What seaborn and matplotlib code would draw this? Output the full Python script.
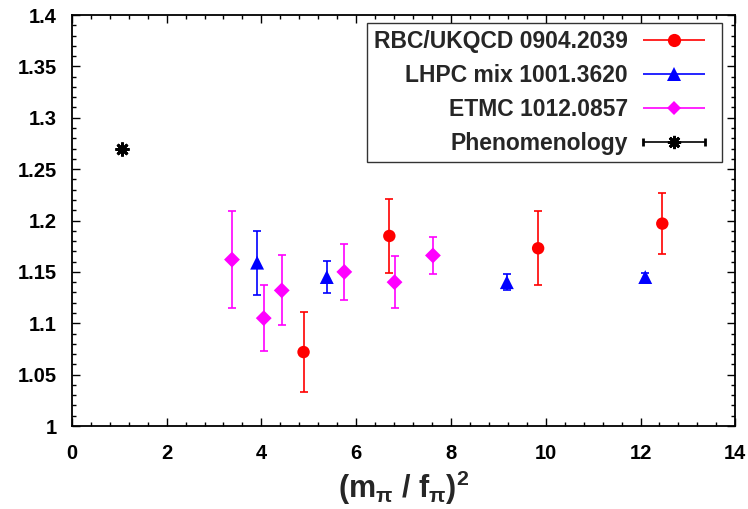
import matplotlib
matplotlib.use('Agg')
import matplotlib.pyplot as plt
import seaborn as sns
from matplotlib.ticker import MultipleLocator
from matplotlib.legend_handler import HandlerErrorbar

# RBC/UKQCD 0904.2039
rbc_x = [4.89, 6.70, 9.84, 12.46]
rbc_y = [1.072, 1.185, 1.173, 1.197]
rbc_e = [0.039, 0.036, 0.036, 0.030]

# LHPC mix 1001.3620
lhpc_x = [3.91, 5.38, 9.18, 12.10]
lhpc_y = [1.159, 1.145, 1.140, 1.145]
lhpc_e = [0.031, 0.016, 0.008, 0.004]

# ETMC 1012.0857
etmc_x = [3.38, 4.05, 4.43, 5.75, 6.81, 7.62]
etmc_y = [1.162, 1.105, 1.132, 1.150, 1.140, 1.166]
etmc_e = [0.047, 0.032, 0.034, 0.027, 0.025, 0.018]

# Phenomenology
phen_x = [1.05]
phen_y = [1.270]
phen_e = [0.002]

labels = ['RBC/UKQCD 0904.2039', 'LHPC mix 1001.3620', 'ETMC 1012.0857', 'Phenomenology']

sns.set_style('ticks')
plt.rcParams['font.family'] = ['Liberation Sans', 'DejaVu Sans']
plt.rcParams['font.weight'] = 'bold'
plt.rcParams['mathtext.fontset'] = 'custom'
plt.rcParams['mathtext.rm'] = 'Liberation Sans:bold'
plt.rcParams['mathtext.it'] = 'Liberation Sans:bold'
plt.rcParams['mathtext.bf'] = 'Liberation Sans:bold'

fig = plt.figure(figsize=(7.48, 5.09), dpi=100)
ax = fig.add_axes([0.096, 0.163, 0.887, 0.8075])

series = [
    (rbc_x, rbc_y, rbc_e, '#ff0000', 'o', 80),
    (lhpc_x, lhpc_y, lhpc_e, '#0000ff', '^', 100),
    (etmc_x, etmc_y, etmc_e, '#ff00ff', 'D', 65),
    (phen_x, phen_y, phen_e, 'black', (8, 2, 0), 60),
]

handles = []
for (x, y, e, c, m, s), lab in zip(series, labels):
    ax.errorbar(x, y, yerr=e, fmt='none', ecolor=c, elinewidth=1.2,
                capsize=3, capthick=1.2, zorder=2)
    if m == (8, 2, 0):
        ax.plot(x, y, linestyle='none', marker=m, color=c, markersize=10,
                markeredgewidth=2, zorder=3)
    else:
        sns.scatterplot(x=x, y=y, ax=ax, marker=m, color=c, s=s,
                        edgecolor='none', zorder=3)
    # legend sample: horizontal error bar with the marker in the middle
    h = ax.errorbar([float('nan')], [float('nan')], xerr=[1], color=c,
                    marker=m, linestyle='none',
                    markersize=9.5 if m != 'D' else 7.5,
                    markeredgewidth=2 if m == (8, 2, 0) else 0,
                    elinewidth=1.2, capsize=3, capthick=1.2)
    handles.append(h)

ax.set_xlim(0, 14)
ax.set_ylim(1.0, 1.4)
ax.xaxis.set_major_locator(MultipleLocator(2))
ax.xaxis.set_minor_locator(MultipleLocator(0.4))
ax.yaxis.set_minor_locator(MultipleLocator(0.01))
ax.set_yticks([1.0, 1.05, 1.1, 1.15, 1.2, 1.25, 1.3, 1.35, 1.4])
ax.set_yticklabels(['1', '1.05', '1.1', '1.15', '1.2', '1.25', '1.3', '1.35', '1.4'])
ax.tick_params(which='both', direction='in', top=True, right=True,
               labelsize=14.5, colors='black')
ax.tick_params(axis='x', pad=13)
ax.tick_params(axis='y', pad=11)
ax.tick_params(which='major', length=6, width=1)
ax.tick_params(which='minor', length=3, width=1)
for sp in ax.spines.values():
    sp.set_visible(True)
    sp.set_linewidth(1.3)
    sp.set_color('black')

ax.set_xlabel(r'(m$_\pi$ / f$_\pi$)$^2$', fontsize=22, fontweight='bold',
              labelpad=4)

hmap = {h: HandlerErrorbar(xerr_size=1.35, numpoints=1) for h in handles}
leg = ax.legend(handles, labels, loc='upper right', handler_map=hmap,
                bbox_to_anchor=(0.98, 0.981), borderaxespad=0,
                markerfirst=False, fontsize=16.5, handlelength=3.6,
                labelspacing=0.49, handletextpad=0.2, frameon=True,
                fancybox=False, borderpad=0.3)
leg.get_frame().set_edgecolor('black')
leg.get_frame().set_linewidth(1.0)
for t in leg.get_texts():
    t.set_fontweight('bold')

fig.savefig('out.png', dpi=100)
